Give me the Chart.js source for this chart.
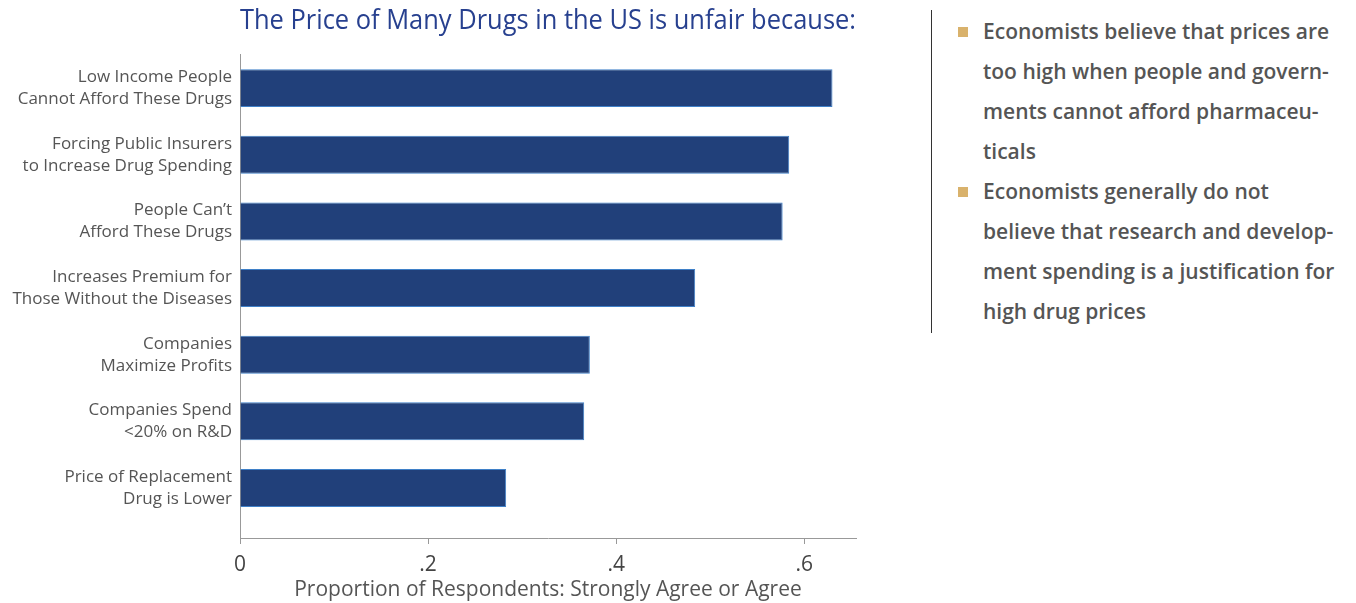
<!DOCTYPE html>
<html>
<head>
<meta charset="utf-8">
<script src="https://cdn.jsdelivr.net/npm/chart.js@4/dist/chart.umd.min.js"></script>
<style>
  body { margin: 0; background: #fff; width: 1356px; height: 603px; overflow: hidden; position: relative; }
  #wrap { position: absolute; left: 0; top: 0; width: 890px; height: 603px; }
  #notes {
    position: absolute; left: 931px; top: 10px; height: 323px;
    border-left: 1.5px solid #333; padding-left: 26px;
    font-family: "Open Sans", sans-serif; font-weight: 600; font-size: 21px;
    color: #555; line-height: 40px; white-space: nowrap;
  }
  #notes ul { list-style: none; margin: 0; padding: 0; margin-top: 1px; }
  #notes li { position: relative; padding-left: 25px; }
  #notes li::before {
    content: ""; position: absolute; left: 0; top: 16px; width: 10px; height: 10px; background: #d9b26c;
  }
</style>
</head>
<body>
<div id="wrap"><canvas id="chart"></canvas></div>
<div id="notes">
  <ul>
    <li>Economists believe that prices are<br>too high when people and govern-<br>ments cannot afford pharmaceu-<br>ticals</li>
    <li>Economists generally do not<br>believe that research and develop-<br>ment spending is a justification for<br>high drug prices</li>
  </ul>
</div>
<script>
// categories, top to bottom
let categories = [
    ['Low Income People', 'Cannot Afford These Drugs'],
    ['Forcing Public Insurers', 'to Increase Drug Spending'],
    ['People Can\u2019t', 'Afford These Drugs'],
    ['Increases Premium for', 'Those Without the Diseases'],
    ['Companies', 'Maximize Profits'],
    ['Companies Spend', '<20% on R&D'],
    ['Price of Replacement', 'Drug is Lower']
]
// proportion strongly agree or agree
let values = [0.630, 0.584, 0.577, 0.484, 0.372, 0.366, 0.283]
let xTicks = [0, 0.2, 0.4, 0.6]
let xTickLabels = ['0', '.2', '.4', '.6']

let points = values.map((v, i) => ({x: v, y: i}))

new Chart(document.getElementById('chart'), {
    type: 'bar',
    data: {
        datasets: [{
            data: points,
            backgroundColor: '#21407a',
            borderColor: '#3f80c8',
            borderWidth: 1,
            categoryPercentage: 1,
            barPercentage: 0.57
        }]
    },
    options: {
        indexAxis: 'y',
        responsive: true,
        maintainAspectRatio: false,
        animation: false,
        layout: { padding: { right: 34, left: 0, top: 0, bottom: 0 } },
        plugins: {
            legend: { display: false },
            tooltip: { enabled: false },
            title: {
                display: true,
                text: 'The Price of Many Drugs in the US is unfair because:',
                color: '#27408f',
                fullSize: false,
                font: { family: 'Open Sans', size: 26.5, weight: 'normal' },
                padding: { top: 6, bottom: 17 }
            }
        },
        scales: {
            x: {
                type: 'linear',
                min: 0,
                max: 0.655,
                afterBuildTicks: (scale) => {
                    scale.ticks = xTicks.map(v => ({value: v}))
                },
                afterFit: (scale) => { scale.height = 65 },
                ticks: {
                    color: '#444',
                    font: { family: 'Open Sans', size: 21 },
                    padding: 8,
                    callback: (v) => xTickLabels[xTicks.indexOf(v)]
                },
                grid: { drawOnChartArea: false, tickLength: 6, color: '#999' },
                border: { color: '#999' },
                title: {
                    display: true,
                    text: 'Proportion of Respondents: Strongly Agree or Agree',
                    color: '#555',
                    font: { family: 'Open Sans', size: 21 },
                    padding: { top: 0, bottom: 0 }
                }
            },
            y: {
                type: 'linear',
                reverse: true,
                offset: false,
                min: -0.5,
                max: 6.75,
                afterBuildTicks: (scale) => {
                    scale.ticks = categories.map((c, i) => ({value: i}))
                },
                afterFit: (scale) => { scale.width = 240 },
                ticks: {
                    color: '#555',
                    font: { family: 'Open Sans', size: 17, lineHeight: 1.3 },
                    padding: 0,
                    callback: (v) => categories[v]
                },
                grid: { display: false },
                border: { color: '#999' }
            }
        }
    }
})
</script>
</body>
</html>
